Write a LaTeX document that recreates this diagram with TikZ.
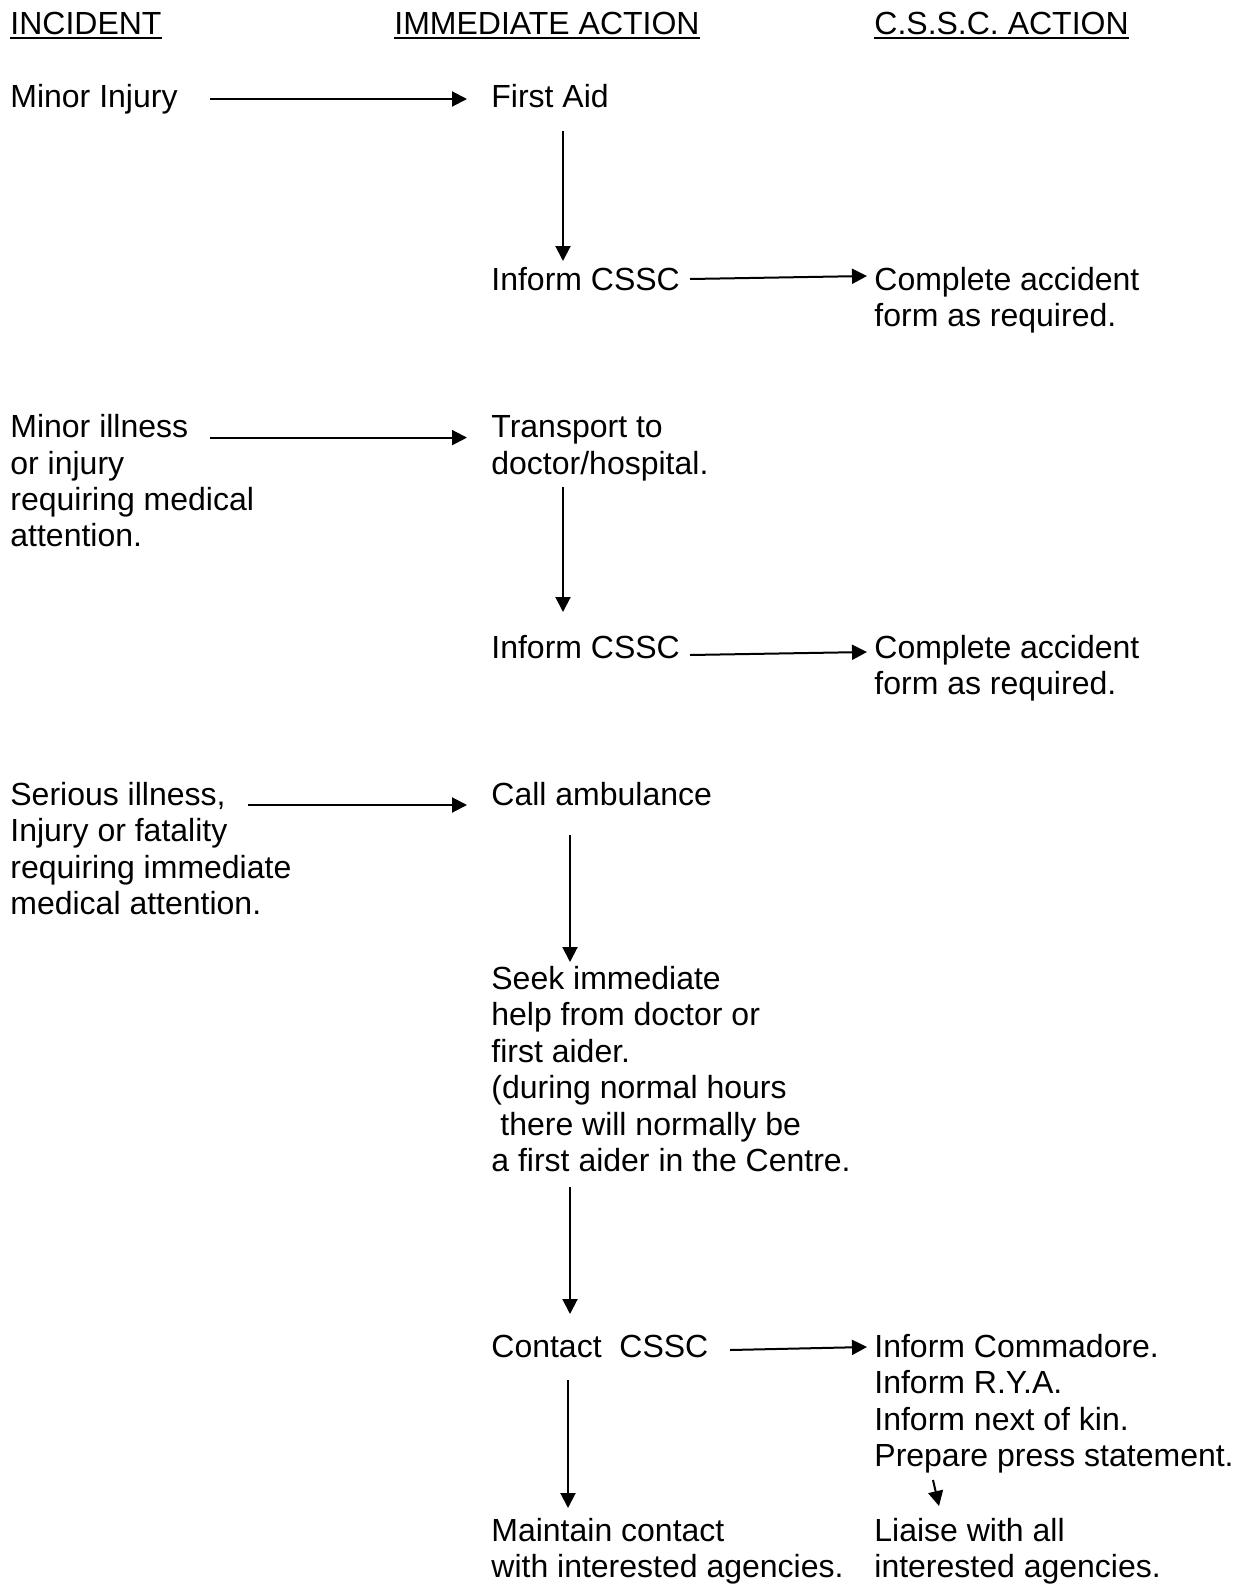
\documentclass[tikz,border=0pt]{standalone}
\usepackage{fontspec}
\setmainfont{Liberation Sans}
\usetikzlibrary{arrows.meta}
\begin{document}
\begin{tikzpicture}[x=0.5pt,y=-0.5pt,
  txt/.style={anchor=base west,inner sep=0pt,align=left,font=\fontsize{16}{18.2}\selectfont},
  arr/.style={-{Triangle[length=7.5pt,width=7.5pt]},line width=1pt},
  uline/.style={line width=1pt}]
\useasboundingbox[fill=white] (0,0) rectangle (1238,1585);
% headers
\node[txt] (h1) at (10,34) {INCIDENT};
\node[txt] (h2) at (394,34) {IMMEDIATE ACTION};
\node[txt] (h3) at (874,34) {C.S.S.C. ACTION};
\foreach \h in {h1,h2,h3}
  \draw[uline] ([yshift=-2.2pt]\h.base west) -- ([yshift=-2.2pt]\h.base east);
% incidents (multi-line nodes are placed by the baseline of their last line)
\node[txt] (i1) at (10,107) {Minor Injury};
\node[txt] (i2) at (10,546.8) {Minor illness\\or injury\\requiring medical\\attention.};
\node[txt] (i3) at (10,914.7) {Serious illness,\\Injury or fatality\\requiring immediate\\medical attention.};
% immediate actions
\node[txt] (a1) at (491,107) {First Aid};
\node[txt] (a2) at (491,290) {Inform CSSC};
\node[txt] (b1) at (491,474) {Transport to\\doctor/hospital.};
\node[txt] (b2) at (491,658) {Inform CSSC};
\node[txt] (c1) at (491,805.5) {Call ambulance};
\node[txt] (c2) at (491,1171.4) {Seek immediate\\help from doctor or\\first aider.\\(during normal hours\\\hspace*{0.28em}there will normally be\\a first aider in the Centre.};
\node[txt] (c3) at (491,1357.2) {Contact\ \ CSSC};
\node[txt] (c4) at (491,1577.6) {Maintain contact\\with interested agencies.};
% CSSC actions
\node[txt] (s1) at (874,326.4) {Complete accident\\form as required.};
\node[txt] (s2) at (874,694.4) {Complete accident\\form as required.};
\node[txt] (s3) at (874,1466.4) {Inform Commadore.\\Inform R.Y.A.\\Inform next of kin.\\Prepare press statement.};
\node[txt] (s4) at (874,1577.6) {Liaise with all\\interested agencies.};
% connector end points
\coordinate (i1e) at (210,99);   \coordinate (a1w) at (467,99);
\coordinate (a1s) at (563,131);  \coordinate (a2n) at (563,261);
\coordinate (a2e) at (690,279);  \coordinate (s1w) at (867,276);
\coordinate (i2e) at (210,437.6);\coordinate (b1w) at (467,437.6);
\coordinate (b1s) at (563,487);  \coordinate (b2n) at (563,612);
\coordinate (b2e) at (690,655);  \coordinate (s2w) at (867,652);
\coordinate (i3e) at (248,805);  \coordinate (c1w) at (467,805);
\coordinate (c1s) at (570,835);  \coordinate (c2n) at (570,962);
\coordinate (c2s) at (570,1187); \coordinate (c3n) at (570,1314);
\coordinate (c3e) at (730,1350); \coordinate (s3w) at (867,1347);
\coordinate (c3s) at (568,1380); \coordinate (c4n) at (568,1508);
\coordinate (s3s) at (933,1480); \coordinate (s4n) at (939,1506);
% connectors
\draw[arr] (i1e) -- (a1w);
\draw[arr] (a1s) -- (a2n);
\draw[arr] (a2e) -- (s1w);
\draw[arr] (i2e) -- (b1w);
\draw[arr] (b1s) -- (b2n);
\draw[arr] (b2e) -- (s2w);
\draw[arr] (i3e) -- (c1w);
\draw[arr] (c1s) -- (c2n);
\draw[arr] (c2s) -- (c3n);
\draw[arr] (c3e) -- (s3w);
\draw[arr] (c3s) -- (c4n);
\draw[arr] (s3s) -- (s4n);
\end{tikzpicture}
\end{document}
